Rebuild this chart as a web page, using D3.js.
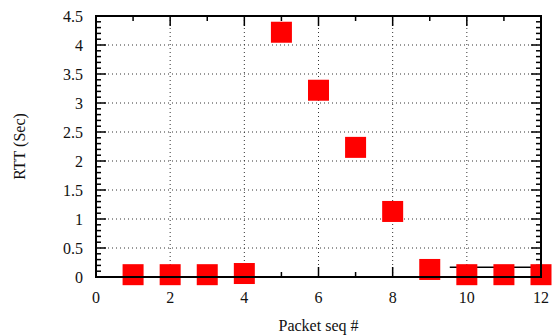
<!DOCTYPE html>
<html><head><meta charset="utf-8">
<script src="https://cdn.jsdelivr.net/npm/d3@7"></script>
<style>body{margin:0;background:#fff}svg{display:block}</style>
</head><body><div id="c"></div>
<script>
const packetSeq = [1,2,3,4,5,6,7,8,9,10,11,12];
const rttSec = [0.04,0.04,0.04,0.06,4.22,3.22,2.235,1.13,0.13,0.04,0.04,0.04];
const xTicks = [0,2,4,6,8,10,12];
const yTicks = [0,0.5,1,1.5,2,2.5,3,3.5,4,4.5];
const segX = [9.54,12];
const segY = [0.17,0.17];

const FONT = "'Liberation Serif', 'DejaVu Serif', 'Liberation Sans', Arial, sans-serif";
const W=553,H=335, L=96, R=541, T=16, B=277;
const svg=d3.select("#c").append("svg").attr("width",W).attr("height",H);
const x=d3.scaleLinear().domain([0,12]).range([L,R]);
const y=d3.scaleLinear().domain([0,4.5]).range([B,T]);

// grid
const grid=svg.append("g").attr("stroke","#333").attr("stroke-width",1).attr("stroke-dasharray","1,3");
grid.selectAll(".gx").data(xTicks.filter(d=>d>0&&d<12)).join("line")
 .attr("x1",d=>x(d)).attr("x2",d=>x(d)).attr("y1",B).attr("y2",T);
grid.selectAll(".gy").data(yTicks.filter(d=>d>0&&d<4.5)).join("line")
 .attr("y1",d=>y(d)).attr("y2",d=>y(d)).attr("x1",L).attr("x2",R);

// ticks
const minorX=d3.range(1,12,2), minorY=d3.range(0,45).map(i=>i/10).filter(v=>Math.round(v*10)%5!==0);
const tk=svg.append("g").attr("stroke","#000").attr("stroke-width",1.5);
function ticks(data,len,isX){
  data.forEach(d=>{
    if(isX){
      tk.append("line").attr("x1",x(d)).attr("x2",x(d)).attr("y1",B).attr("y2",B-len);
      tk.append("line").attr("x1",x(d)).attr("x2",x(d)).attr("y1",T).attr("y2",T+len);
    } else {
      tk.append("line").attr("y1",y(d)).attr("y2",y(d)).attr("x1",L).attr("x2",L+len);
      tk.append("line").attr("y1",y(d)).attr("y2",y(d)).attr("x1",R).attr("x2",R-len);
    }
  });
}
ticks(xTicks,10,true); ticks(minorX,5,true); ticks(yTicks,10,false); ticks(minorY,5,false);

// segment
svg.append("line").attr("x1",x(segX[0])).attr("x2",x(segX[1])).attr("y1",y(segY[0])).attr("y2",y(segY[1]))
 .attr("stroke","#000").attr("stroke-width",1.5);

// markers
const s=21;
svg.selectAll(".m").data(packetSeq).join("rect")
 .attr("x",(d)=>x(d)-s/2).attr("y",(d,i)=>y(rttSec[i])-s/2).attr("width",s).attr("height",s).attr("fill","#ff0000");

// frame
svg.append("rect").attr("x",L).attr("y",T).attr("width",R-L).attr("height",B-T)
 .attr("fill","none").attr("stroke","#000").attr("stroke-width",2);

// labels
const tf = t=>t.attr("font-family",FONT).attr("fill","#111").attr("font-size",16);
svg.selectAll(".xl").data(xTicks).join("text").attr("x",d=>x(d)).attr("y",303)
 .attr("text-anchor","middle").call(tf).text(d=>d);
svg.selectAll(".yl").data(yTicks).join("text").attr("x",83).attr("y",d=>y(d)+5.5)
 .attr("text-anchor","end").call(tf).text(d=>d);
svg.append("text").attr("x",(L+R)/2).attr("y",331).attr("text-anchor","middle").call(tf).text("Packet seq #");
svg.append("text").attr("transform",`translate(25,${(T+B)/2}) rotate(-90)`).attr("text-anchor","middle").call(tf).text("RTT (Sec)");
</script></body></html>
